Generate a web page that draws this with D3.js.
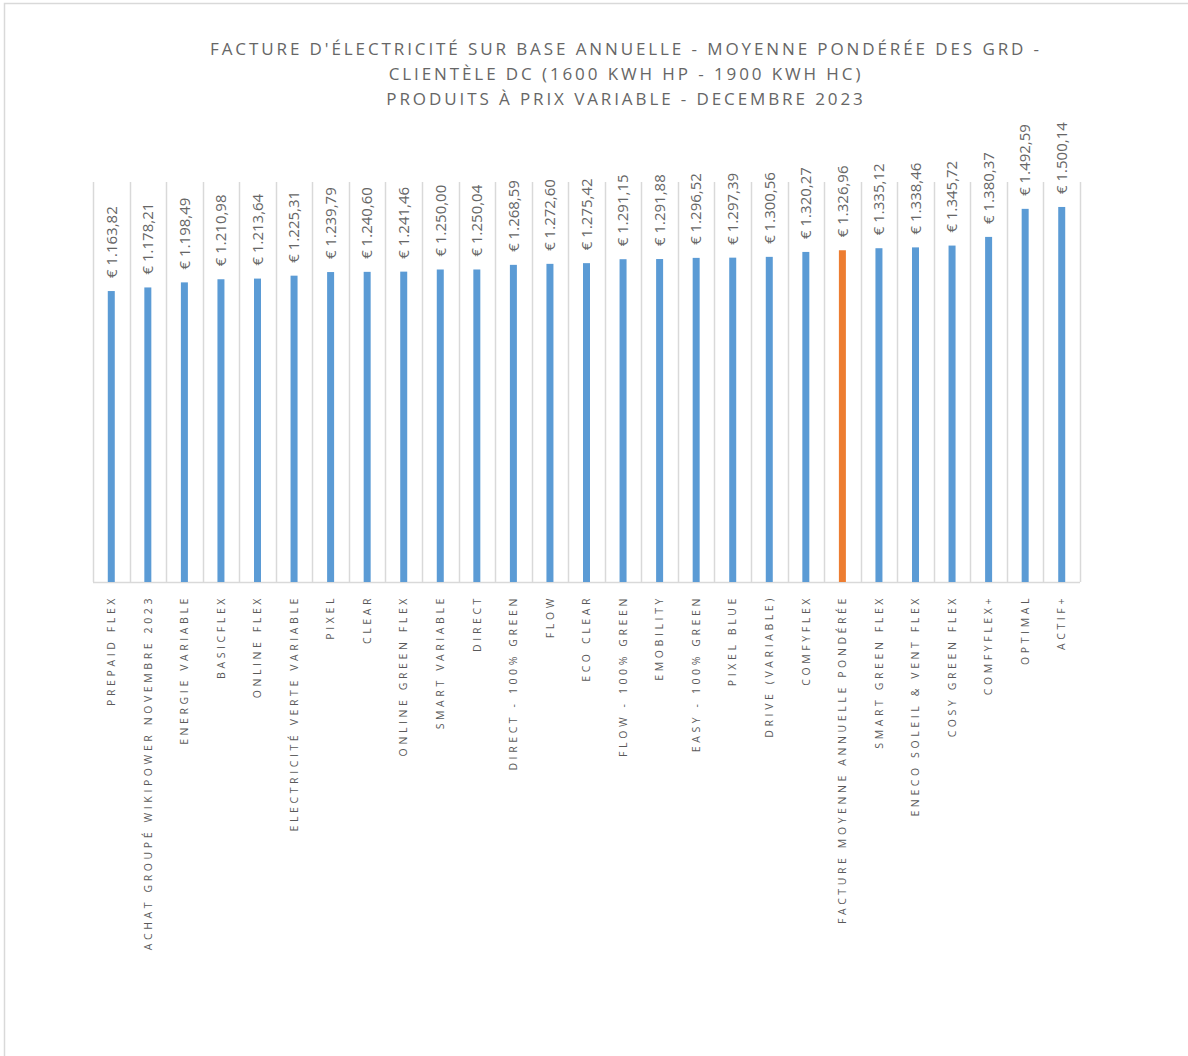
<!DOCTYPE html>
<html>
<head>
<meta charset="utf-8">
<script src="https://cdn.jsdelivr.net/npm/d3@7"></script>
<style>
  body { margin: 0; background: #fff; }
  text { font-family: "Open Sans", "Liberation Sans", sans-serif; fill: #595959; }
</style>
</head>
<body>
<svg id="chart" width="1188" height="1056"></svg>
<script>
var categories = [
  "PREPAID FLEX", "ACHAT GROUPÉ WIKIPOWER NOVEMBRE 2023", "ENERGIE VARIABLE", "BASICFLEX",
  "ONLINE FLEX", "ELECTRICITÉ VERTE VARIABLE", "PIXEL", "CLEAR", "ONLINE GREEN FLEX",
  "SMART VARIABLE", "DIRECT", "DIRECT - 100% GREEN", "FLOW", "ECO CLEAR", "FLOW - 100% GREEN",
  "EMOBILITY", "EASY  - 100% GREEN", "PIXEL BLUE", "DRIVE (VARIABLE)", "COMFYFLEX",
  "FACTURE MOYENNE ANNUELLE PONDÉRÉE", "SMART GREEN FLEX", "ENECO SOLEIL & VENT FLEX",
  "COSY GREEN FLEX", "COMFYFLEX+", "OPTIMAL", "ACTIF+"
];
var values = [
  1163.82, 1178.21, 1198.49, 1210.98, 1213.64, 1225.31, 1239.79, 1240.60, 1241.46,
  1250.00, 1250.04, 1268.59, 1272.60, 1275.42, 1291.15, 1291.88, 1296.52, 1297.39,
  1300.56, 1320.27, 1326.96, 1335.12, 1338.46, 1345.72, 1380.37, 1492.59, 1500.14
];
var highlight = "FACTURE MOYENNE ANNUELLE PONDÉRÉE";
var titleLines = [
  "FACTURE D'ÉLECTRICITÉ SUR BASE ANNUELLE - MOYENNE PONDÉRÉE DES GRD -",
  "CLIENTÈLE DC (1600 KWH HP - 1900 KWH HC)",
  "PRODUITS À PRIX VARIABLE - DECEMBRE 2023"
];
var yMax = 1600;

var svg = d3.select("#chart");
var plotLeft = 93, plotRight = 1080, plotTop = 182, plotBottom = 582;

// chart area border
svg.append("rect")
  .attr("x", 4.5).attr("y", 3.5).attr("width", 1200).attr("height", 1100)
  .attr("fill", "none").attr("stroke", "#d9d9d9").attr("stroke-width", 1.5);

var x = d3.scaleBand().domain(categories).range([plotLeft, plotRight]).padding(0);
var y = d3.scaleLinear().domain([0, yMax]).range([plotBottom, plotTop]);

// vertical separators between categories
var seps = categories.map(function(c) { return x(c); }).concat([plotRight]);
svg.selectAll("line.sep").data(seps).enter().append("line")
  .attr("class", "sep")
  .attr("x1", function(d) { return Math.round(d) + 0.5; })
  .attr("x2", function(d) { return Math.round(d) + 0.5; })
  .attr("y1", plotTop).attr("y2", plotBottom)
  .attr("stroke", "#d9d9d9").attr("stroke-width", 1.5);

// baseline
svg.append("line")
  .attr("x1", plotLeft).attr("x2", plotRight)
  .attr("y1", plotBottom + 0.5).attr("y2", plotBottom + 0.5)
  .attr("stroke", "#d9d9d9").attr("stroke-width", 1.5);

var barW = 7;
svg.selectAll("rect.bar").data(values).enter().append("rect")
  .attr("class", "bar")
  .attr("x", function(d, i) { return x(categories[i]) + x.bandwidth() / 2 - barW / 2; })
  .attr("y", function(d) { return y(d); })
  .attr("width", barW)
  .attr("height", function(d) { return y(0) - y(d); })
  .attr("fill", function(d, i) { return categories[i] === highlight ? "#ED7D31" : "#5B9BD5"; });

var fmt = function(v) {
  var s = v.toFixed(2).split(".");
  return "€ " + s[0].replace(/\B(?=(\d{3})+(?!\d))/g, ".") + "," + s[1];
};

// value labels
svg.selectAll("text.val").data(values).enter().append("text")
  .attr("class", "val")
  .attr("transform", function(d, i) {
    var cx = x(categories[i]) + x.bandwidth() / 2;
    return "translate(" + cx + "," + (y(d) - 13) + ") rotate(-90)";
  })
  .attr("dy", "0.35em")
  .attr("text-anchor", "start")
  .style("font-size", "15px")
  .style("fill", "#666")
  .text(fmt);

// category labels
svg.selectAll("text.cat").data(categories).enter().append("text")
  .attr("class", "cat")
  .attr("transform", function(d) {
    var cx = x(d) + x.bandwidth() / 2;
    return "translate(" + cx + "," + (plotBottom + 13) + ") rotate(-90)";
  })
  .attr("dy", "0.35em")
  .attr("text-anchor", "end")
  .style("font-size", "10.5px")
  .style("letter-spacing", "3.6px")
  .text(function(d) { return d; });

// title
svg.selectAll("text.title").data(titleLines).enter().append("text")
  .attr("class", "title")
  .attr("x", 626)
  .attr("y", function(d, i) { return 55 + i * 25; })
  .attr("text-anchor", "middle")
  .style("font-size", "17px")
  .style("letter-spacing", "2.9px")
  .style("fill", "#666")
  .text(function(d) { return d; });
</script>
</body>
</html>
